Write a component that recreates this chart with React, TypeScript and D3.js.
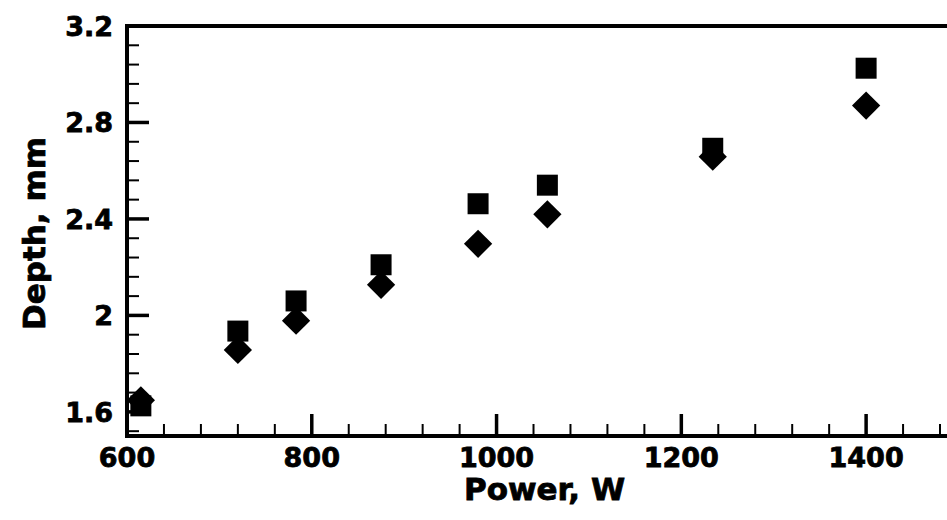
import React from "react";
import * as d3 from "d3";

const power = [615, 720, 783, 875, 980, 1055, 1234, 1400];
const depthSquare = [1.625, 1.935, 2.06, 2.21, 2.463, 2.54, 2.693, 3.025];
const depthDiamond = [1.648, 1.857, 1.978, 2.127, 2.297, 2.419, 2.658, 2.87];
const xMajorTicks = [600, 800, 1000, 1200, 1400];
const yMajorTicks = [1.6, 2.0, 2.4, 2.8, 3.2];
const yTickLabels = ["1.6", "2", "2.4", "2.8", "3.2"];
const xTitle = "Power, W";
const yTitle = "Depth, mm";

const W = 947;
const H = 520;
const FONT = "'DejaVu Sans', sans-serif";

export default function App() {
  const x = d3.scaleLinear().domain([600, 1500]).range([127, 958.5]);
  const y = d3.scaleLinear().domain([1.5, 3.2]).range([436, 26]);
  const xMinor = d3.range(600, 1500.1, 40).filter((v) => !xMajorTicks.includes(v));
  const yMinor = d3.range(1.52, 3.2, 0.08).filter(
    (v) => !yMajorTicks.some((m) => Math.abs(m - v) < 1e-6)
  );
  const sq = d3.symbol().type(d3.symbolSquare).size(441)();
  const dm = d3.symbol().type(d3.symbolSquare).size(400)();

  return (
    <svg
      width={W}
      height={H}
      style={{ position: "absolute", left: 0, top: 0, background: "#fff" }}
    >
      <rect x={0} y={0} width={W} height={H} fill="#fff" />
      {xMinor.map((v) => (
        <line key={"xm" + v} x1={x(v)} x2={x(v)} y1={436} y2={424} stroke="#000" strokeWidth={2} />
      ))}
      {xMajorTicks.map((v) => (
        <line key={"xM" + v} x1={x(v)} x2={x(v)} y1={436} y2={414} stroke="#000" strokeWidth={3.5} />
      ))}
      {yMinor.map((v) => (
        <line key={"ym" + v} x1={127} x2={139} y1={y(v)} y2={y(v)} stroke="#000" strokeWidth={2} />
      ))}
      {yMajorTicks.map((v) => (
        <line key={"yM" + v} x1={127} x2={149} y1={y(v)} y2={y(v)} stroke="#000" strokeWidth={3.5} />
      ))}
      <line x1={127} x2={W + 5} y1={436} y2={436} stroke="#000" strokeWidth={4} />
      <line x1={127} x2={W + 5} y1={26} y2={26} stroke="#000" strokeWidth={4} />
      <line x1={127} x2={127} y1={24} y2={438} stroke="#000" strokeWidth={4} />
      {xMajorTicks.map((v) => (
        <text
          key={"xl" + v}
          x={x(v)}
          y={467}
          textAnchor="middle"
          fontFamily={FONT}
          fontWeight="bold"
          fontSize={27}
          fill="#000"
          stroke="#000"
          strokeWidth={0.8}
        >
          {String(v)}
        </text>
      ))}
      {yMajorTicks.map((v, i) => (
        <text
          key={"yl" + v}
          x={113}
          y={y(v) + 10}
          textAnchor="end"
          fontFamily={FONT}
          fontWeight="bold"
          fontSize={27}
          fill="#000"
          stroke="#000"
          strokeWidth={0.8}
        >
          {yTickLabels[i]}
        </text>
      ))}
      <text
        x={544.5}
        y={500}
        textAnchor="middle"
        fontFamily={FONT}
        fontWeight="bold"
        fontSize={31}
        fill="#000"
        stroke="#000"
        strokeWidth={0.8}
      >
        {xTitle}
      </text>
      <text
        transform={`translate(45,233.5) rotate(-90)`}
        textAnchor="middle"
        fontFamily={FONT}
        fontWeight="bold"
        fontSize={31}
        fill="#000"
        stroke="#000"
        strokeWidth={0.8}
      >
        {yTitle}
      </text>
      {power.map((p, i) => (
        <path key={"s" + i} d={sq} transform={`translate(${x(p)},${y(depthSquare[i])})`} fill="#000" />
      ))}
      {power.map((p, i) => (
        <path
          key={"d" + i}
          d={dm}
          transform={`translate(${x(p)},${y(depthDiamond[i])}) rotate(45)`}
          fill="#000"
        />
      ))}
    </svg>
  );
}
